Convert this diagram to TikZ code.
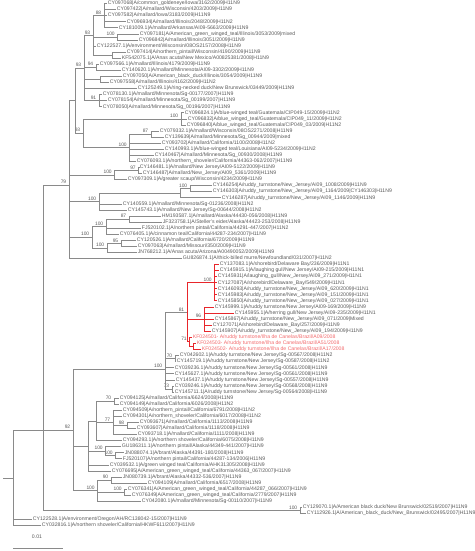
\documentclass[tikz,border=0pt]{standalone}
\usepackage{fontspec}
\setmainfont{Liberation Sans}
\usetikzlibrary{calc}
\definecolor{Twig}{HTML}{8A8A8A}
\definecolor{Tag}{HTML}{5A5A5A}
\definecolor{Flag}{HTML}{E8262B}
\definecolor{FlagTag}{HTML}{F26A6C}

\tikzset{
  leaf/.style={anchor=west,inner sep=0.7pt,font=\fontsize{5.15}{5.5}\selectfont,text=Tag},
  redleaf/.style={leaf,text=FlagTag},
  boot/.style={anchor=south east,inner sep=0.4pt,font=\fontsize{4.9}{5}\selectfont,text=Tag},
  br/.style={Twig,line width=0.6pt},
  redbr/.style={Flag,line width=1pt},
}
% row of leaf i, in px of the reference
\newcommand\rowy[1]{3.5+(#1-1)*6.07}
% clade node: name, x, first child, last child (y in the middle)
\newcommand\clade[4]{\path let \p1=(#3),\p2=(#4) in coordinate (#1) at (#2pt,{0.5*\y1+0.5*\y2});}
\newcommand\kids[3][br]{\foreach \c in {#3} \draw[#1] (#2) |- (\c);}
\newcommand\bs[2]{\node[boot] (bs-#1) at ($(#1)+(-2.2,-0.6)$) {#2};}

\begin{document}
\begin{tikzpicture}[x=1pt,y=-1pt]
\useasboundingbox (0,0) rectangle (474,551);
% leaves
\foreach \i/\x/\t in {
 1/107/{CY097068|A/common\_goldeneye/Iowa/3162/2009|H11N9},
 2/116/{CY097422|A/mallard/Wisconsin/4203/2009|H11N9},
 3/107/{CY097582|A/mallard/Iowa/3183/2009|H11N9},
 4/126/{CY096934|A/mallard/Illinois/2048/2009|H11N2},
 5/118/{CY181009.1|A/mallard/Arkansas/AI09-5663/2009|H11N9},
 6/139/{CY097181|A/American\_green\_winged\_teal/Illinois/3053/2009|mixed},
 7/138/{CY096842|A/mallard/Illinois/3051/2009|H11N9},
 8/96/{CY122527.1|A/environment/Wisconsin/08OS2157/2008|H11N9},
 9/126/{CY097414|A/northern\_pintail/Wisconsin/4190/2009|H11N9},
 10/121/{KF542075.1|A/Anas acuta/New Mexico/A00825381/2008|H11N9},
 11/99/{CY097566.1|A/mallard/Illinois/4179/2009|H11N9},
 12/121/{CY140620.1|A/mallard/Minnesota/AI09-3302/2009|H11N9},
 13/122/{CY097050|A/American\_black\_duck/Illinois/3054/2009|H11N9},
 14/109/{CY097558|A/mallard/Illinois/4162/2009|H11N2},
 15/137/{CY125249.1|A/ring-necked duck/New Brunswick/03449/2009|H11N9},
 16/102/{CY078130.1|A/mallard/Minnesota/Sg-00177/2007|H11N9},
 17/107/{CY078154|A/mallard/Minnesota/Sg\_00199/2007|H11N9},
 18/102/{CY078050|A/mallard/Minnesota/Sg\_00196/2007|H11N9},
 19/184/{CY096824.1|A/blue-winged teal/Guatemala/CIP049-15/2009|H11N2},
 20/187/{CY096832|A/blue\_winged\_teal/Guatemala/CIP049\_11/2009|H11N2},
 21/186/{CY096840|A/blue\_winged\_teal/Guatemala/CIP049\_03/2009|H11N2},
 22/159/{CY079332.1|A/mallard/Wisconsin/08OS2271/2008|H11N9},
 23/164/{CY139639|A/mallard/Minnesota/Sg\_00944/2009|mixed},
 24/161/{CY093702|A/mallard/California/1100/2008|H11N2},
 25/164/{CY140993.1|A/blue-winged teal/Louisiana/AI09-5234/2009|H11N2},
 26/154/{CY140467|A/mallard/Minnesota/Sg\_00930/2008|H11N9},
 27/136/{CY076093.1|A/northern\_shoveler/California/44363-062/2007|H11N9},
 28/139/{CY146481.1|A/mallard/New Jersey/AI09-5122/2009|H11N9},
 29/142/{CY146487|A/mallard/New\_Jersey/AI09\_5361/2009|H11N9},
 30/127/{CY097309.1|A/greater scaup/Wisconsin/4234/2009|H11N9},
 31/212/{CY146254|A/ruddy\_turnstone/New\_Jersey/AI09\_1008/2009|H11N9},
 32/212/{CY146303|A/ruddy\_turnstone/New\_Jersey/AI09\_1164/2009|CY146303|H11N9},
 33/221/{CY146287|A/ruddy\_turnstone/New\_Jersey/AI09\_1146/2009|H11N9},
 34/122/{CY140559.1|A/mallard/Minnesota/Sg-01236/2008|H11N2},
 35/127/{CY145743.1|A/mallard/New Jersey/Sg-00644/2008|H11N2},
 36/161/{HM193587.1|A/mallard/Alaska/44430-056/2008|H11N9},
 37/162/{JF323758.1|A/Steller's eider/Alaska/44423-253/2008|H11N9},
 38/141/{FJ520102.1|A/northern pintail/California/44291-447/2007|H11N2},
 39/119/{CY076405.1|A/cinnamon teal/California/44287-234/2007|H11N9},
 40/136/{CY120526.1|A/mallard/California/6720/2009|H11N9},
 41/137/{CY097063|A/mallard/Missouri/350/2009|H11N9},
 42/137/{JN768212.1|A/Anas acuta/Arizona/A00490052/2009|H11N9},
 43/182/{GU826874.1|A/thick-billed murre/Newfoundland/031/2007|H11N2},
 44/219/{CY137083.1|A/shorebird/Delaware Bay/236/2009|H11N1},
 45/219/{CY145915.1|A/laughing gull/New Jersey/AI09-215/2009|H11N1},
 46/217/{CY145931|A/laughing\_gull/New\_Jersey/AI09\_271/2009|H11N1},
 47/217/{CY127087|A/shorebird/Delaware\_Bay/549/2009|H11N1},
 48/217/{CY146093|A/ruddy\_turnstone/New\_Jersey/AI09\_620/2009|H11N1},
 49/217/{CY145983|A/ruddy\_turnstone/New\_Jersey/AI09\_151/2009|H11N1},
 50/217/{CY145850|A/ruddy\_turnstone/New\_Jersey/AI09\_027/2009|H11N1},
 51/214/{CY145999.1|A/ruddy turnstone/New Jersey/AI09-169/2009|H11N9},
 52/234/{CY145955.1|A/herring gull/New Jersey/AI09-235/2009|H11N1},
 53/214/{CY145867|A/ruddy\_turnstone/New\_Jersey/AI09\_071/2009|Mixed},
 54/212/{CY127071|A/shorebird/Delaware\_Bay/257/2009|H11N9},
 55/211/{CY145907|A/ruddy\_turnstone/New\_Jersey/AI09\_194/2009|H11N9},
 59/179/{CY042602.1|A/ruddy turnstone/New Jersey/Sg-00567/2008|H11N2},
 60/176/{CY145719.1|A/ruddy turnstone/New Jersey/Sg-00587/2008|H11N2},
 61/174/{CY039236.1|A/ruddy turnstone/New Jersey/Sg-00561/2008|H11N9},
 62/174/{CY145627.1|A/ruddy turnstone/New Jersey/Sg-00561/2008|H11N9},
 63/175/{CY145437.1|A/ruddy turnstone/New Jersey/Sg-00557/2008|H11N9},
 64/174/{CY039246.1|A/ruddy turnstone/New Jersey/Sg-00568/2008|H11N9},
 65/174/{CY145711.1|A/ruddy turnstone/New Jersey/Sg-00564/2008|H11N9},
 66/119/{CY094125|A/mallard/California/6624/2008|H11N9},
 67/119/{CY094149|A/mallard/California/6026/2008|H11N2},
 68/122/{CY094509|A/northern\_pintail/California/6791/2008|H11N2},
 69/122/{CY094301|A/northern\_shoveler/California/6017/2008|H11N2},
 70/139/{CY093671|A/mallard/California/1113/2008|H11N9},
 71/136/{CY093607|A/mallard/California/1118/2008|H11N9},
 72/137/{CY093718.1|A/mallard/California/1111/2008|H11N9},
 73/122/{CY094293.1|A/northern shoveler/California/6075/2008|H11N9},
 74/121/{GU186311.1|A/northern pintail/Alaska/44349-441/2007|H11N9},
 75/124/{JN088074.1|A/brant/Alaska/44391-180/2008|H11N9},
 76/122/{FJ520107|A/northern pintail/California/44287-134/2006|H11N9},
 77/109/{CY039532.1|A/green winged teal/California/AHK31305/2008|H11N9},
 78/111/{CY076695|A/American\_green\_winged\_teal/California/44363\_067/2007|H11N9},
 79/122/{JN080739.1|A/brant/Alaska/44332-536/2007|H11N9},
 80/147/{CY094109|A/mallard/California/6517/2008|H11N9},
 81/127/{CY076341|A/American\_green\_winged\_teal/California/44287\_066/2007|H11N9},
 82/131/{CY076349|A/American\_green\_winged\_teal/California/2779/2007|H11N9},
 83/141/{CY042080.1|A/mallard/Minnesota/Sg-00110/2007|H11N9},
 84/302/{CY129070.1|A/American black duck/New Brunswick/02519/2007|H11N9},
 85/306/{CY112926.1|A/American\_black\_duck/New\_Brunswick/02495/2007|H11N9},
 86/32/{CY122528.1|A/environment/Oregon/AH/RC138042-15/2007|H11N9},
 87/41/{CY032816.1|A/northern shoveler/California/HKWF611/2007|H11N9}}
{\coordinate (l\i) at (\x,{\rowy{\i}}); \node[leaf] (t\i) at (l\i) {\t};}
\foreach \i/\x/\t in {
 56/192/{KF024501- A/ruddy turnstone/Ilha de Canelas/Brazil/A09/2008},
 57/196/{KF024503- A/ruddy turnstone/Ilha de Canelas/Brazil/A51/2008},
 58/201/{KF024502- A/ruddy turnstone/Ilha de Canelas/Brazil/A17/2008}}
{\coordinate (l\i) at (\x,{\rowy{\i}}); \node[redleaf] (t\i) at (l\i) {\t};}

% upper clade
\clade{n88}{104}{l1}{l5} \kids{n88}{l1,l2,l3,l4,l5} \bs{n88}{88}
\clade{n100a}{117.5}{l6}{l7} \kids{n100a}{l6,l7} \bs{n100a}{100}
\clade{n9}{112}{l9}{l10} \kids{n9}{l9,l10}
\clade{n93a}{93}{n88}{n9} \kids{n93a}{n88,n100a,l8,n9} \bs{n93a}{93}
\clade{n94}{96}{l11}{l12} \kids{n94}{l11,l12} \bs{n94}{94}
\clade{n13}{100}{l13}{l14} \kids{n13}{l13,l14}
\clade{n91}{99}{l16}{l18} \kids{n91}{l16,l17,l18} \bs{n91}{91}
\clade{n93b}{84}{n93a}{n91} \kids{n93b}{n93a,n94,n13,l15,n91} \bs{n93b}{93}
% mallard / teal clade
\clade{n100b}{181}{l19}{l21} \kids{n100b}{l19,l20,l21} \bs{n100b}{100}
\clade{n87}{151}{l22}{l23} \kids{n87}{l22,l23} \bs{n87}{87}
\clade{n100c}{129.5}{n87}{l27} \kids{n100c}{n87,l24,l25,l26,l27} \bs{n100c}{100}
\clade{n93c}{83}{n100b}{n100c} \kids{n93c}{n100b,n100c} \bs{n93c}{93}
\clade{nu}{75}{n93b}{n93c} \kids{nu}{n93b,n93c}
\clade{n97}{138.5}{l28}{l29} \kids{n97}{l28,l29} \bs{n97}{97}
\clade{n100d}{114.5}{n97}{l30} \kids{n100d}{n97,l30} \bs{n100d}{100}
\clade{n100f}{190}{l31}{l32} \kids{n100f}{l31,l32} \bs{n100f}{100}
\clade{nf2}{180}{n100f}{l33} \kids{nf2}{n100f,l33}
\clade{n100h}{99}{nf2}{l35} \kids{n100h}{nf2,l34,l35} \bs{n100h}{100}
\clade{n87b}{129}{l36}{l37} \kids{n87b}{l36,l37} \bs{n87b}{87}
\clade{n100i}{106}{n87b}{l39} \kids{n100i}{n87b,l38,l39} \bs{n100i}{100}
\clade{n95}{121}{l40}{l41} \kids{n95}{l40,l41} \bs{n95}{95}
\clade{n100k}{107}{n95}{l42} \kids{n100k}{n95,l42} \bs{n100k}{100}
\clade{n100j}{92}{n100i}{n100k} \kids{n100j}{n100i,n100k} \bs{n100j}{100}
\coordinate (n79) at (69,185);
\kids{n79}{nu,n100d,n100h,n100j,l43} \bs{n79}{79}
% red clade
\clade{n100r}{214.5}{l44}{l50} \kids[redbr]{n100r}{l44,l45,l46,l47,l48,l49,l50} \bs{n100r}{100}
\clade{n96}{204}{l51}{l55} \kids[redbr]{n96}{l51,l52,l53,l54,l55} \bs{n96}{96}
\clade{nkf2}{193.5}{l57}{l58} \kids[redbr]{nkf2}{l57,l58}
\clade{nkf}{189.5}{l56}{nkf2} \kids[redbr]{nkf}{l56,nkf2} \bs{nkf}{71}
\clade{n81}{187}{n100r}{nkf} \kids[redbr]{n81}{n100r,n96,nkf} \bs{n81}{81}
% ruddy turnstone Sg clade
\clade{n70}{175}{l59}{l60} \kids{n70}{l59,l60} \bs{n70}{70}
\clade{n7x}{172}{l64}{l65} \kids{n7x}{l64,l65} \bs{n7x}{73}
\coordinate (nsg) at (165,369);
\kids{nsg}{n81,n70,l61,l62,l63,n7x} \bs{nsg}{100}
% California clade
\clade{n70b}{114}{l66}{l67} \kids{n70b}{l66,l67} \bs{n70b}{70}
\clade{n98}{127}{l70}{l71} \kids{n98}{l70,l71} \bs{n98}{98}
\clade{n77}{113}{l68}{l72} \kids{n77}{l68,l69,n98,l72} \bs{n77}{77}
\clade{nc1}{96}{n70b}{l73} \kids{nc1}{n70b,n77,l73}
\clade{n100m}{115.5}{l75}{l76} \kids{n100m}{l75,l76} \bs{n100m}{100}
\clade{n100l}{105.5}{l74}{n100m} \kids{n100l}{l74,n100m} \bs{n100l}{100}
\clade{nc2}{88}{nc1}{l78} \kids{nc2}{nc1,n100l,l77,l78}
\clade{n90}{111}{l79}{l80} \kids{n90}{l79,l80} \bs{n90}{90}
\clade{n100o}{124.5}{l81}{l82} \kids{n100o}{l81,l82} \bs{n100o}{100}
\clade{n100n}{97.5}{n90}{l83} \kids{n100n}{n90,n100o,l83} \bs{n100n}{100}
\coordinate (nb) at (73,430);
\kids{nb}{nsg,nc2,n100n} \bs{nb}{92}
% base
\clade{n100p}{300}{l84}{l85} \kids{n100p}{l84,l85} \bs{n100p}{100}
\coordinate (na) at (43,430);
\kids{na}{n79,nb,n100p}
\coordinate (nroot) at (13,478);
\kids{nroot}{na,l86,l87}
\coordinate (stub) at ($(nroot)+(-10,0)$);
\draw[br] (stub) -- (nroot);
% scale
\coordinate (sb0) at (13,548);
\coordinate (sb1) at (63,548);
\draw[br] (sb0) -- (sb1);
\node[leaf,anchor=south] (sbl) at (37,539) {0.01};
\end{tikzpicture}
\end{document}
